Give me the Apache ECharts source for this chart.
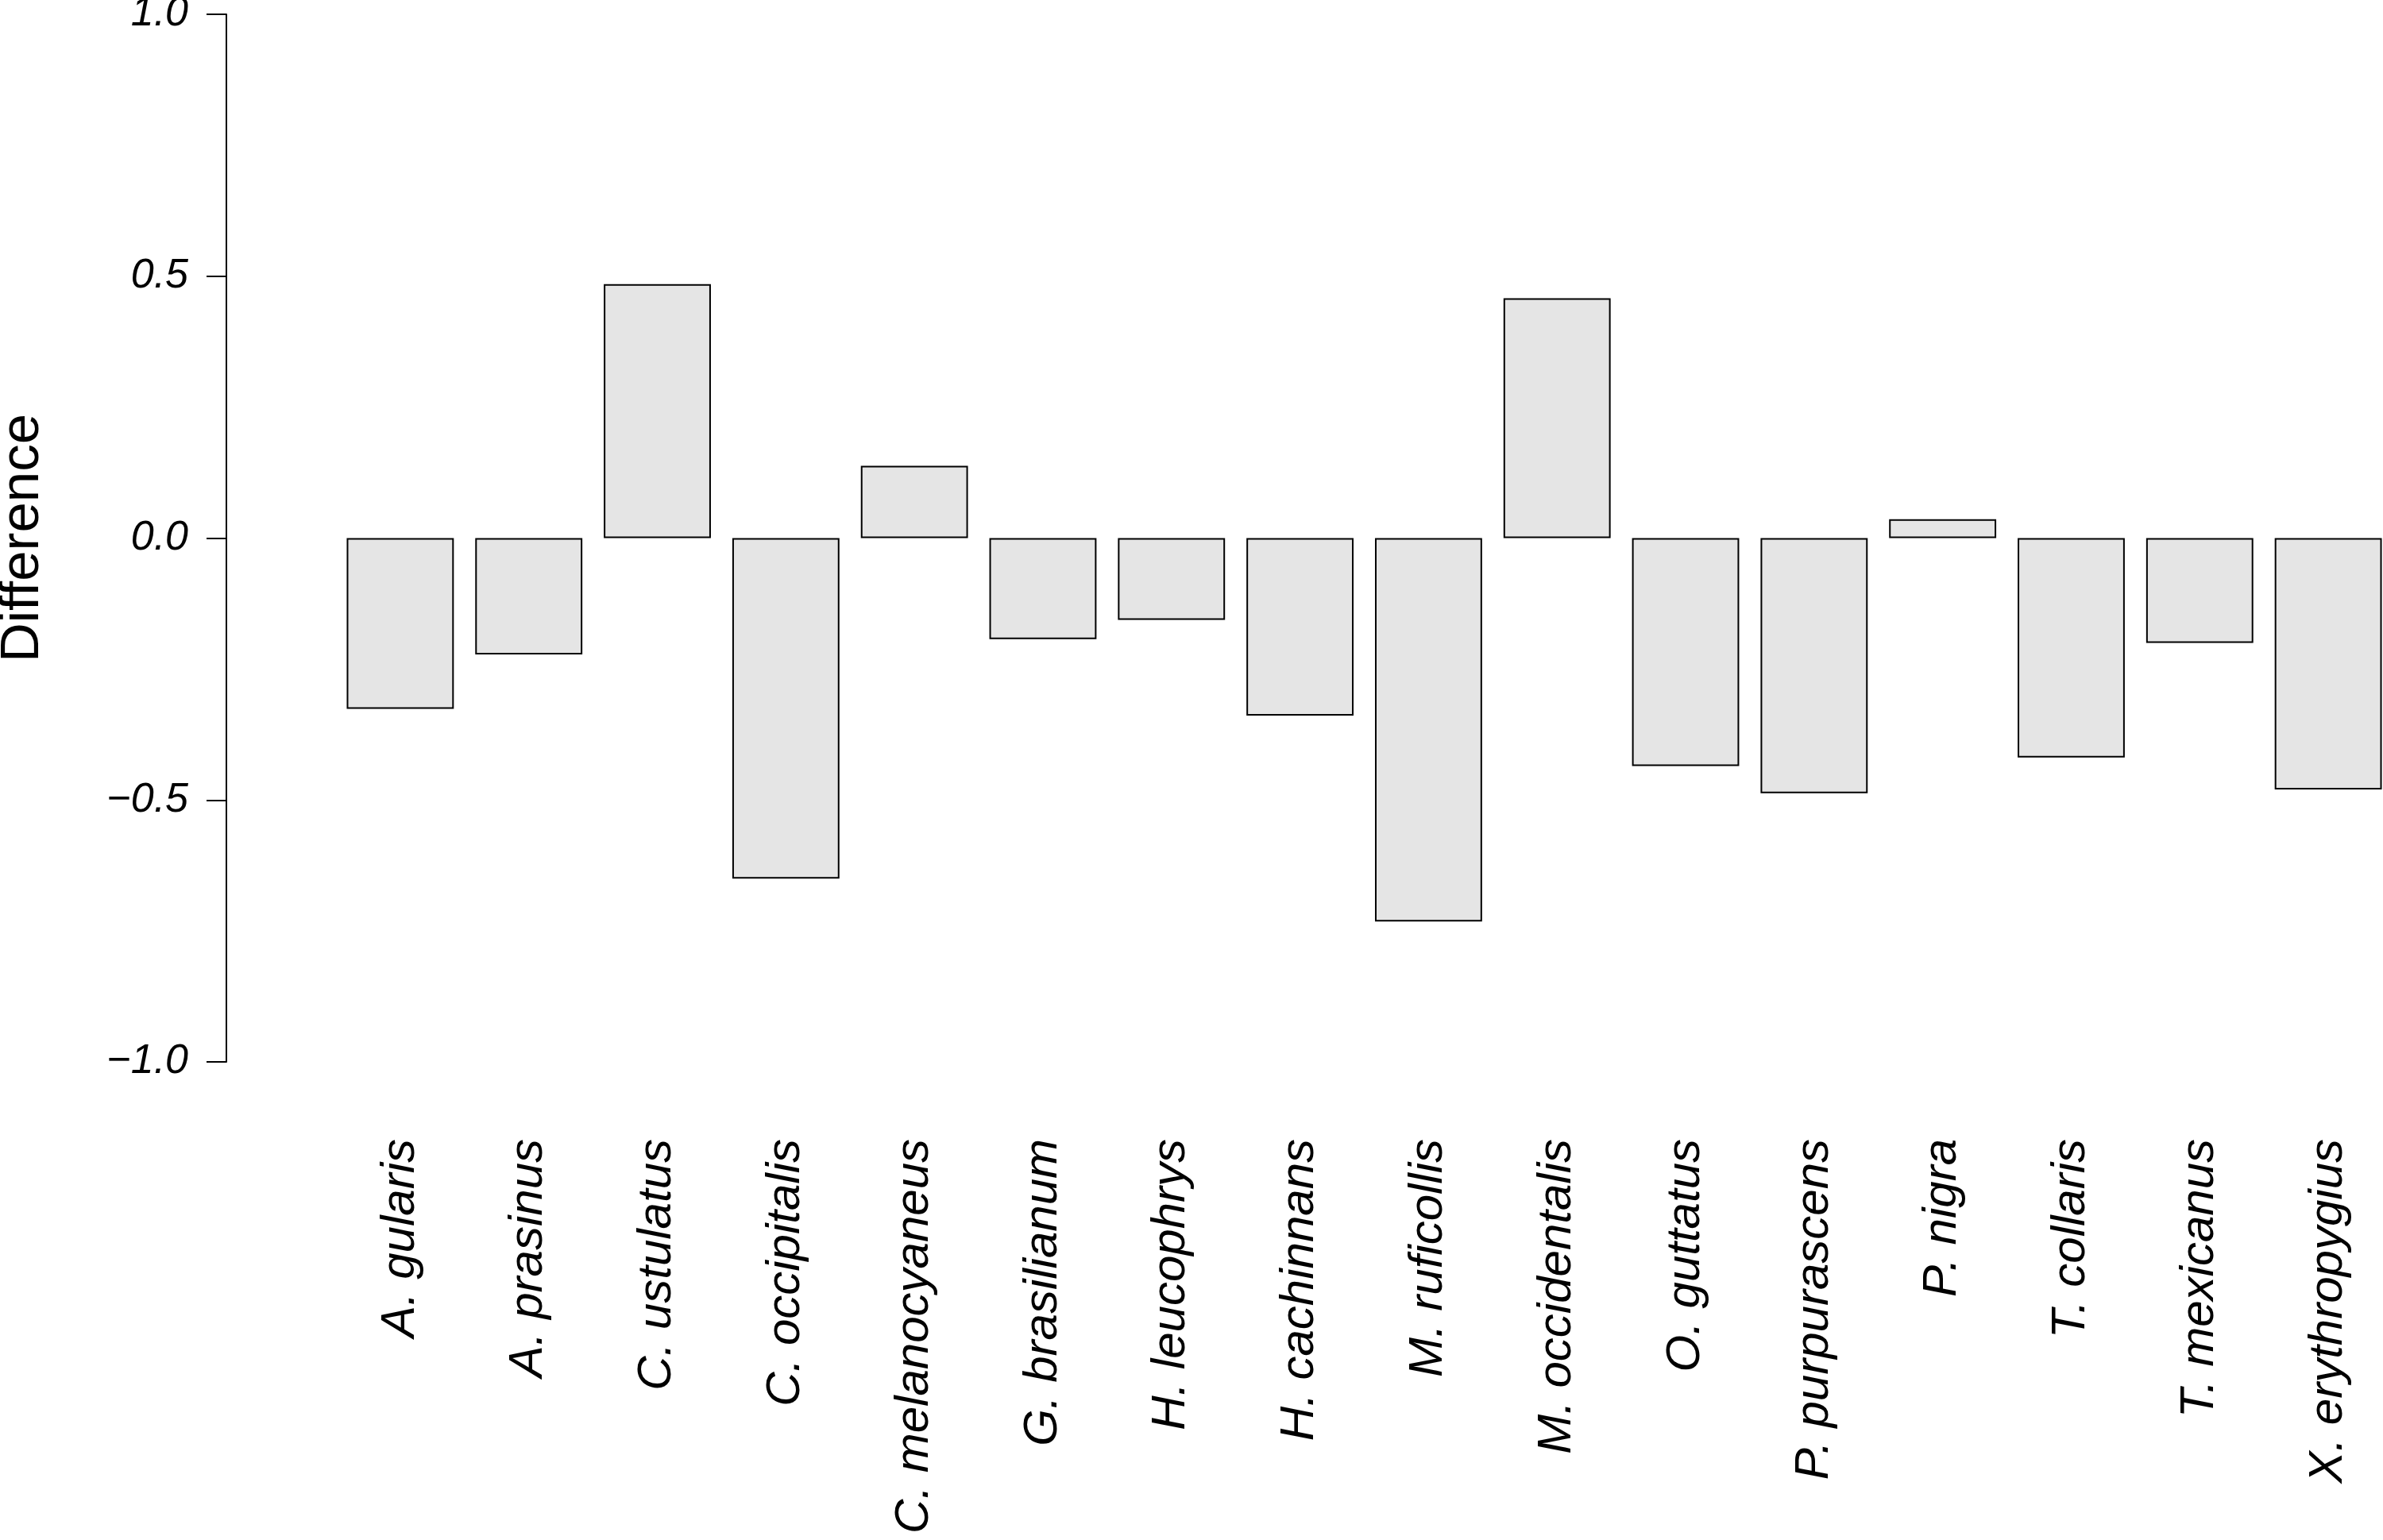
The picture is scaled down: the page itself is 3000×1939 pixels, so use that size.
<!DOCTYPE html>
<html>
<head>
<meta charset="utf-8">
<script src="https://cdn.jsdelivr.net/npm/echarts@6/dist/echarts.min.js"></script>
<style>
html,body{margin:0;padding:0;background:#fff;}
#chart{width:3000px;height:1939px;}
</style>
</head>
<body>
<div id="chart"></div>
<script>
const species = ["A. gularis","A. prasinus","C. ustulatus","C. occipitalis","C. melanocyaneus","G. brasilianum","H. leucophrys","H. cachinnans","M. ruficollis","M. occidentalis","O. guttatus","P. purpurascens","P. nigra","T. collaris","T. mexicanus","X. erythropygius"];
const difference = [-0.326,-0.222,0.485,-0.650,0.138,-0.193,-0.156,-0.339,-0.732,0.458,-0.435,-0.487,0.036,-0.419,-0.200,-0.480];
const yTicks = [-1.0,-0.5,0.0,0.5,1.0];
const yAxisTitle = "Difference";

const FONT = "'Liberation Sans', Arial, Helvetica, sans-serif";
const chart = echarts.init(document.getElementById('chart'), null, {renderer:'canvas'});
chart.setOption({
  backgroundColor:'#ffffff',
  animation:false,
  grid:{left:423, top:18, width:2589, height:1319, containLabel:false, outerBoundsMode:'none'},
  xAxis:{
    type:'category',
    data:species,
    boundaryGap:true,
    axisLine:{show:false},
    axisTick:{show:false},
    splitLine:{show:false},
    axisLabel:{
      rotate:90, interval:0, margin:97,
      fontFamily:FONT, fontStyle:'italic', fontSize:60, color:'#000'
    }
  },
  yAxis:{
    type:'value',
    min:yTicks[0], max:yTicks[yTicks.length-1], interval:0.5,
    offset:138,
    name:yAxisTitle, nameLocation:'middle', nameRotate:90, nameGap:222,
    nameTextStyle:{fontFamily:FONT, fontSize:69, color:'#000'},
    axisLine:{show:true, lineStyle:{color:'#000', width:2}},
    axisTick:{show:true, length:25, lineStyle:{color:'#000', width:2}},
    splitLine:{show:false},
    axisLabel:{
      margin:48, fontFamily:FONT, fontStyle:'italic', fontSize:52, color:'#000',
      formatter:function(v){ const s=Math.abs(v).toFixed(1); return v<0 ? '\u2212'+s : s; }
    }
  },
  series:[{
    type:'bar',
    data:difference,
    barWidth:'83.333%',
    itemStyle:{color:'#e5e5e5', borderColor:'#000', borderWidth:2},
    emphasis:{disabled:true}
  }]
});
</script>
</body>
</html>
